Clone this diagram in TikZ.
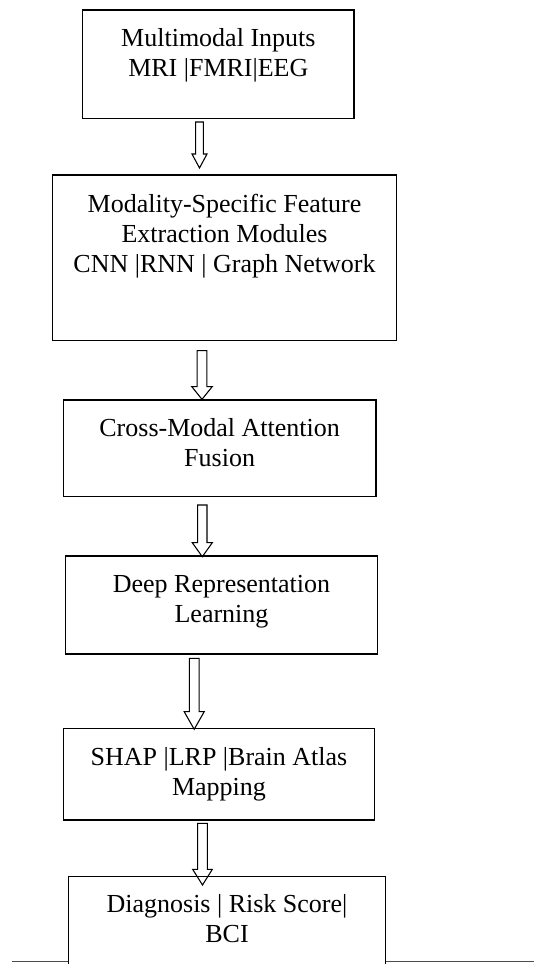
\documentclass[tikz,border=0pt]{standalone}
\usepackage{fontspec}
\setmainfont{Liberation Serif}
\usetikzlibrary{fit}
\newcommand\hollowarrow[7]{% name, cx, top, base, tip, shaft half, head half
  \coordinate (#1) at (#2,#5);
  \draw[harrow] (#2-#6,#3) -- (#2+#6,#3) -- (#2+#6,#4) -- (#2+#7,#4) -- (#1) -- (#2-#7,#4) -- (#2-#6,#4) -- cycle;}
\begin{document}
\begin{tikzpicture}[x=0.75pt,y=-0.75pt,
  box/.style={draw, line width=1.1pt, inner sep=0pt},
  lbl/.style={align=center, font=\fontsize{19.5pt}{22.5pt}\selectfont, inner sep=0pt, anchor=base},
  harrow/.style={draw, line width=0.8pt, line join=miter},
  rule/.style={draw=black!70, line width=0.6pt}]
\useasboundingbox (0,0) rectangle (534,964);
\clip (0,0) rectangle (534,964);
% boxes
\node[box, fit={(82.7,10) (354,118.7)}] (b1) {};
\node[box, fit={(52.7,175) (396.3,340.7)}] (b2) {};
\node[box, fit={(63.3,400) (376,496.7)}] (b3) {};
\node[box, fit={(65.3,556) (377.7,654)}] (b4) {};
\node[box, fit={(63.3,728.3) (374.7,820)}] (b5) {};
\node[box, fit={(68.3,876.7) (385.7,970)}] (b6) {};
% texts (anchor at the baseline of the last line)
\node[lbl] (t1) at (b1.center |- 0,76) {Multimodal Inputs\\MRI |FMRI|EEG};
\node[lbl] (t2) at (b2.center |- 0,272.7) {Modality-Specific Feature\\Extraction Modules\\CNN |RNN | Graph Network};
\node[lbl] (t3) at (b3.center |- 0,466.7) {Cross-Modal Attention\\Fusion};
\node[lbl] (t4) at (b4.center |- 0,622.7) {Deep Representation\\Learning};
\node[lbl] (t5) at (b5.center |- 0,795) {SHAP |LRP |Brain Atlas\\Mapping};
\node[lbl] (t6) at (b6.center |- 0,942.7) {Diagnosis | Risk Score|\\BCI};
% arrows
\hollowarrow{a1}{199.5}{122}{154}{168}{3.8}{7.5}
\hollowarrow{a2}{202}{350.7}{386.7}{399.3}{4.8}{10.2}
\hollowarrow{a3}{202.3}{505}{542.7}{556.7}{4.7}{10}
\hollowarrow{a4}{194.2}{658.3}{711.7}{729.3}{4.85}{10}
\hollowarrow{a5}{202.5}{823.3}{869.3}{885}{4.8}{9.85}
% bottom rule
\coordinate (rl) at (12.3,961.3);
\coordinate (rr) at (534,961.3);
\draw[rule] (rl) -- (rl -| b6.west);
\draw[rule] (rl -| b6.east) -- (rr);
\end{tikzpicture}
\end{document}
